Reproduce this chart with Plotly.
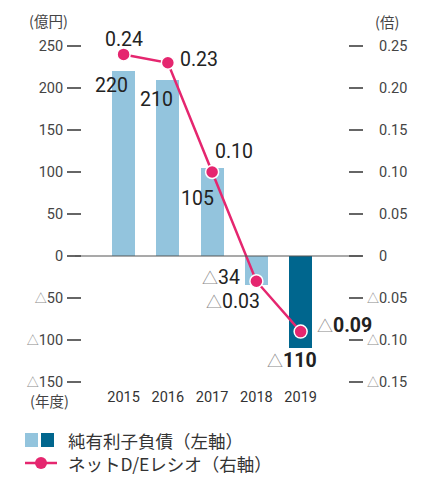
import plotly.graph_objects as go

years = ["2015", "2016", "2017", "2018", "2019"]
net_debt = [220, 210, 105, -34, -110]          # 億円 (left axis)
de_ratio = [0.24, 0.23, 0.10, -0.03, -0.09]     # 倍 (right axis)
left_ticks = [-150, -100, -50, 0, 50, 100, 150, 200, 250]
right_ticks = [-0.15, -0.10, -0.05, 0, 0.05, 0.10, 0.15, 0.20, 0.25]

LIGHT = "#93C4DD"
DARK = "#00668E"
PINK = "#E5266F"
TXT = "#222222"
GREY_TRI = "#8a8a8a"
FONT = "Roboto, 'Noto Sans CJK JP', sans-serif"
CJK = "'Noto Sans CJK JP', sans-serif"

OFF = 8                      # page body margin in browser
WIN_W, WIN_H = 446, 495
W, H = WIN_W - OFF, WIN_H - OFF
L, R, T, B = 82, 348, 46, 382  # plot area in window pixels


def px(x):
    return (x - L) / (R - L)


def py(y):
    return (B - y) / (B - T)


def tri_lbl(s):
    if s.startswith("-"):
        return (f"<span style='color:{GREY_TRI};font-weight:normal;font-size:16px'>△</span>"
                + s[1:])
    return s


def fmt_left(v):
    if v < 0:
        return f"<span style='color:{GREY_TRI};font-size:12px'>△</span>{abs(v)}"
    return str(v)


def fmt_right(v):
    if abs(v) < 1e-9:
        return "\u2007\u2008" + "0"
    if v < 0:
        return f"<span style='color:{GREY_TRI};font-size:12px'>△</span>{abs(v):.2f}"
    return "\u2007\u2008" + f"{v:.2f}"


bar_colors = [DARK if y == "2019" else LIGHT for y in years]

fig = go.Figure()
fig.add_trace(go.Bar(
    x=list(range(len(years))), y=net_debt, marker_color=bar_colors,
    marker_line_width=0, width=0.52, yaxis="y", showlegend=False,
    hoverinfo="skip",
))
fig.add_trace(go.Scatter(
    x=list(range(len(years))), y=de_ratio, yaxis="y2", mode="lines+markers",
    line=dict(color=PINK, width=2.5),
    marker=dict(size=13, color=PINK, line=dict(color="white", width=1.5)),
    showlegend=False, cliponaxis=False, hoverinfo="skip",
))

ann = []
ratio_pos = [("center", 0, 15, False), ("left", 10, 3, False), ("left", 1, 21, False),
             ("right", 5.5, -20, False), ("left", 14, 6, True)]
for i, (v, (xa, xs, ys, bold)) in enumerate(zip(de_ratio, ratio_pos)):
    s = f"{v:.2f}" if v >= 0 else f"-{abs(v):.2f}"
    txt = tri_lbl(s)
    if bold:
        txt = f"<b>{txt}</b>"
    ann.append(dict(x=i, y=v, xref="x", yref="y2", text=txt, showarrow=False,
                    xanchor=xa, yanchor="middle", xshift=xs, yshift=ys,
                    font=dict(size=19.5, color=TXT, family=FONT)))
bar_pos = [("right", 6.5, -14, False), ("right", 7.5, -20, False), ("right", 4, -31, False),
           ("right", -14.5, 6.6, False), ("center", -8.5, -11.6, True)]
for i, (v, (xa, xs, ys, bold)) in enumerate(zip(net_debt, bar_pos)):
    txt = tri_lbl(str(v))
    if bold:
        txt = f"<b>{txt}</b>"
    ann.append(dict(x=i, y=v, xref="x", yref="y", text=txt, showarrow=False,
                    xanchor=xa, yanchor="middle", xshift=xs, yshift=ys,
                    font=dict(size=19.5, color=TXT, family=FONT)))

for text, x, y in [("(億円)", 48, 20), ("(倍)", 387, 21), ("(年度)", 49, 400)]:
    ann.append(dict(x=px(x), y=py(y), xref="paper", yref="paper", text=text,
                    showarrow=False, xanchor="center", yanchor="middle",
                    font=dict(size=14.5, color="#444", family=CJK)))

ann.append(dict(x=px(66), y=py(440), xref="paper", yref="paper", text="純有利子負債（左軸）",
                showarrow=False, xanchor="left", yanchor="middle",
                font=dict(size=17.5, color="#333", family=CJK)))
ann.append(dict(x=px(66), y=py(463), xref="paper", yref="paper", text="ネットD/Eレシオ（右軸）",
                showarrow=False, xanchor="left", yanchor="middle",
                font=dict(size=17.5, color="#333", family=CJK)))

shapes = [
    dict(type="line", xref="paper", yref="y", x0=px(75), x1=px(362), y0=0, y1=0,
         line=dict(color="#555", width=1.2), layer="above"),
    dict(type="rect", xref="paper", yref="paper", x0=px(25), x1=px(38), y0=py(447), y1=py(433),
         fillcolor=LIGHT, line_width=0),
    dict(type="rect", xref="paper", yref="paper", x0=px(41), x1=px(54), y0=py(447), y1=py(433),
         fillcolor=DARK, line_width=0),
    dict(type="line", xref="paper", yref="paper", x0=px(25), x1=px(57), y0=py(463), y1=py(463),
         line=dict(color=PINK, width=2.5)),
    dict(type="circle", xref="paper", yref="paper", x0=px(35), x1=px(47), y0=py(469), y1=py(457),
         fillcolor=PINK, line=dict(color=PINK, width=0)),
]

fig.update_layout(
    width=W, height=H,
    margin=dict(l=L - OFF, r=W + OFF - R, t=T - OFF, b=H + OFF - B, pad=0, autoexpand=False),
    paper_bgcolor="white", plot_bgcolor="white",
    font=dict(family=FONT, color="#333"),
    bargap=0,
    xaxis=dict(range=[-0.94, 5.07], tickvals=list(range(len(years))), ticktext=years,
               showgrid=False, zeroline=False, showline=False, ticks="",
               tickfont=dict(size=14.5, color="#333"), ticklabelstandoff=4),
    yaxis=dict(range=[-150, 250], tickvals=left_ticks, ticktext=[fmt_left(v) for v in left_ticks],
               showgrid=False, zeroline=False, showline=False, ticks="outside", ticklen=14,
               tickwidth=1.5, tickcolor="#666", tickfont=dict(size=14.5, color="#444"),
               ticklabelstandoff=1),
    yaxis2=dict(range=[-0.15, 0.25], tickvals=right_ticks,
                ticktext=[fmt_right(v) for v in right_ticks], overlaying="y", side="right",
                showgrid=False, zeroline=False, showline=False, ticks="outside", ticklen=14,
                tickwidth=1.5, tickcolor="#666", tickfont=dict(size=14.5, color="#444"),
                ticklabelstandoff=1),
    annotations=ann, shapes=shapes,
)

fig.write_html("out.html")
